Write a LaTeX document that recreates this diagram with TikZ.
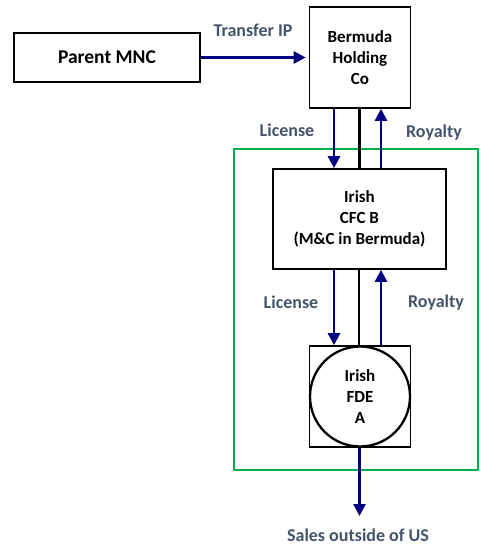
\documentclass[tikz,border=0pt]{standalone}
\usepackage{fontspec}
\setmainfont{Carlito}
\usetikzlibrary{arrows.meta}
\definecolor{flowblue}{HTML}{000080}
\definecolor{labelgray}{HTML}{44546A}
\definecolor{zonegreen}{HTML}{00B050}
\tikzset{
  entity/.style={draw=black, line width=1.6pt, fill=white, inner sep=0pt, align=center,
    font=\bfseries\fontsize{17}{21}\selectfont},
  flow/.style={draw=flowblue, line width=2.6pt, -{Triangle[length=12pt,width=12pt]}},
  link/.style={draw=black, line width=2.6pt},
  flowlabel/.style={text=labelgray, font=\bfseries\fontsize{18}{20}\selectfont, inner sep=0pt}
}
\begin{document}
\begin{tikzpicture}[x=1pt, y=-1pt]
\useasboundingbox (0,0) rectangle (481,548);
% Irish group boundary
\draw[zonegreen, line width=2.4pt] (234,149) rectangle (478,470);
% entities
\node[entity, minimum width=186pt, minimum height=49pt,
  font=\bfseries\fontsize{19.5}{24}\selectfont] (parent) at (107,57.5) {Parent MNC};
\node[entity, minimum width=101pt, minimum height=101pt] (berm) at (360,57.5)
  {Bermuda\\Holding\\Co};
\node[entity, minimum width=173pt, minimum height=100pt] (cfc) at (359.5,219)
  {Irish\\CFC B\\(M\&C in Bermuda)};
\node[entity, minimum width=101pt, minimum height=101pt] (fdebox) at (360,396.5) {};
\node[entity, circle, line width=2.3pt, minimum size=100pt] (fde) at (360,396.5) {Irish\\FDE\\A};
% ownership links
\draw[link] ([xshift=-0.5pt]berm.south) -- ([xshift=-0.5pt]berm.south |- cfc.north);
\draw[link] ([xshift=-0.5pt]cfc.south) -- ([xshift=-0.5pt]cfc.south |- fdebox.north);
% flows
\draw[flow, shorten >=3pt] (parent.east) -- (berm.west);
\draw[flow] ([xshift=-26pt]berm.south) -- ([xshift=-26pt]berm.south |- cfc.north);
\draw[flow] ([xshift=21pt]berm.south |- cfc.north) -- ([xshift=21pt]berm.south);
\draw[flow] ([xshift=-26pt]cfc.south -| berm.south) -- ([xshift=-26pt]berm.south |- fdebox.north);
\draw[flow] ([xshift=21pt]berm.south |- fdebox.north) -- ([xshift=21pt]cfc.south -| berm.south);
\coordinate (salesend) at (359.5,516);
\draw[flow] ([xshift=-0.5pt]fdebox.south) -- (salesend);
% labels
\node[flowlabel] (ltransfer) at (253,30) {Transfer IP};
\node[flowlabel] (llic1) at (287,130) {License};
\node[flowlabel] (lroy1) at (434,133) {Royalty};
\node[flowlabel] (llic2) at (291,302) {License};
\node[flowlabel] (lroy2) at (436,303) {Royalty};
\node[flowlabel] (lsales) at (358,535) {Sales outside of US};
\end{tikzpicture}
\end{document}
